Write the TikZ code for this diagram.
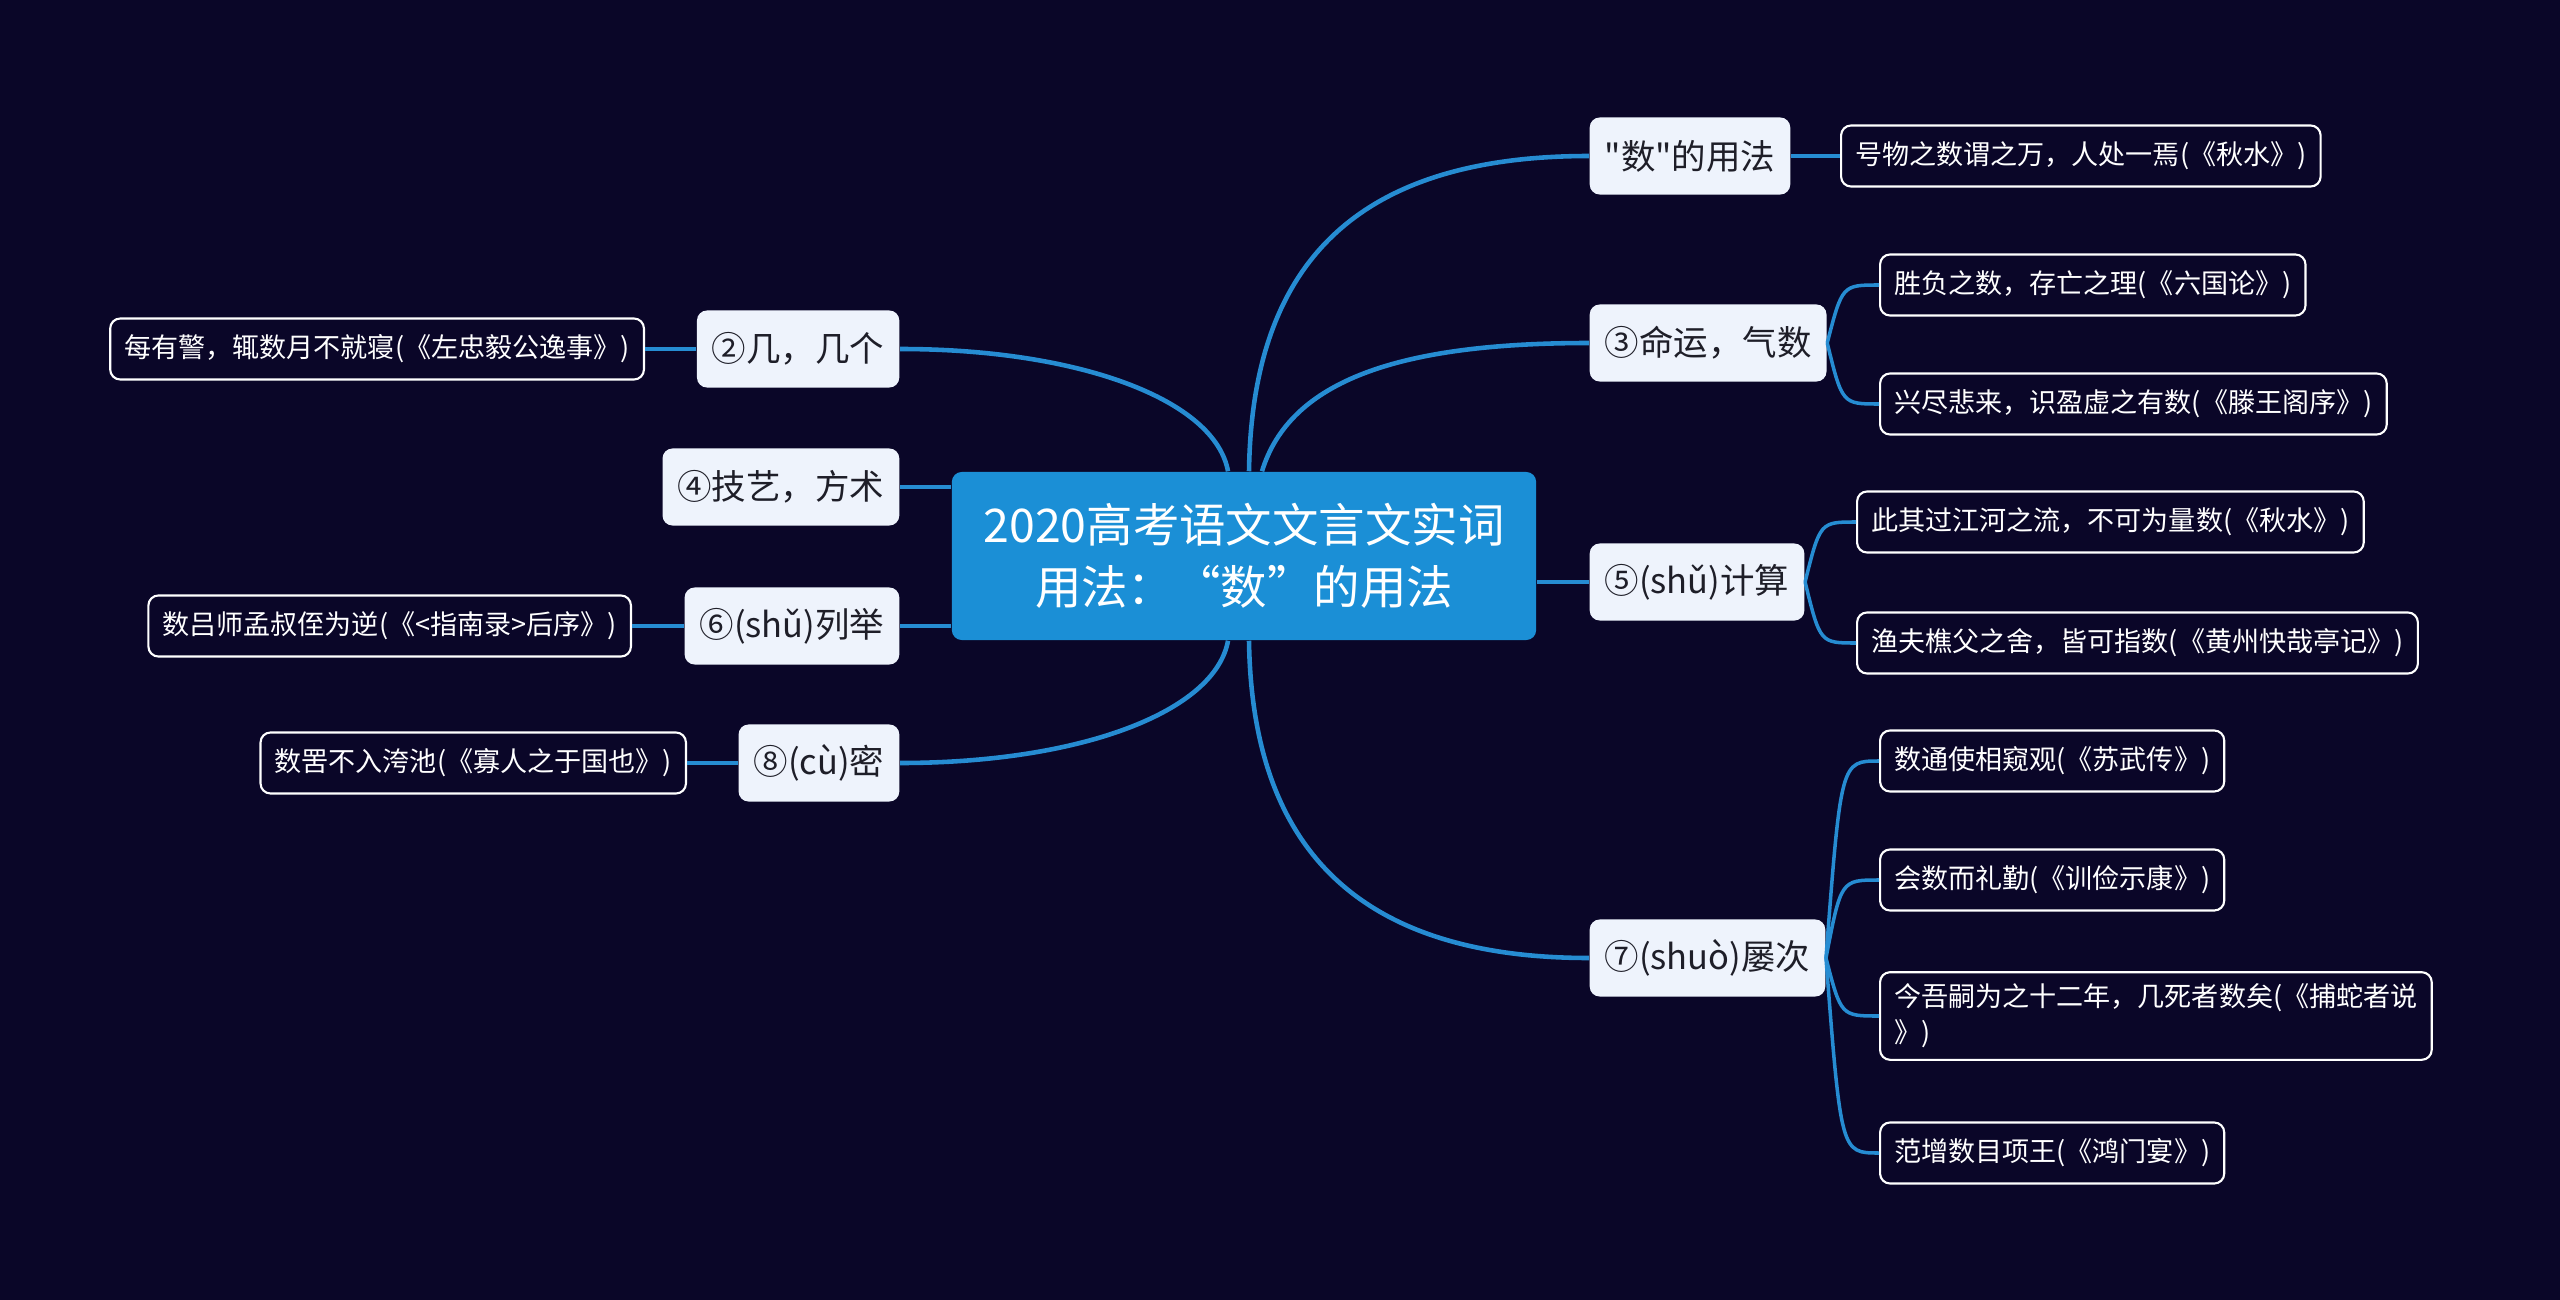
\documentclass[tikz,border=0pt]{standalone}
\usepackage{fontspec}
\setmainfont{Noto Sans CJK SC}[Ligatures=TeXOff]
\usepackage{tikz}
\usetikzlibrary{calc}
\definecolor{bgnavy}{RGB}{10,6,40}
\definecolor{mapblue}{RGB}{27,143,214}
\definecolor{linkblue}{RGB}{38,140,210}
\definecolor{topicfill}{RGB}{238,243,252}
\definecolor{topictext}{RGB}{30,30,40}

\begin{document}
\begin{tikzpicture}[x=0.01cm,y=-0.01cm,
  root/.style={fill=mapblue,rounded corners=0.1cm,text=white,align=center,
    minimum width=5.84cm,minimum height=1.68cm,font=\fontsize{13.2}{17.6}\selectfont},
  topic/.style={fill=topicfill,rounded corners=0.1cm,text=topictext,
    minimum height=0.77cm,inner xsep=0.15cm,font=\fontsize{9.8}{12}\selectfont},
  leaf/.style={fill=bgnavy,draw=white,line width=0.6pt,rounded corners=0.1cm,text=white,
    minimum height=0.61cm,inner xsep=0.14cm,align=left,font=\fontsize{7.7}{10.2}\selectfont},
  branch/.style={draw=linkblue,line width=1.3pt},
  twig/.style={draw=linkblue,line width=1pt}]
  \fill[bgnavy] (0,0) rectangle (2560,1300);
  % centre
  \node[root] (root) at (1244,556) {2020高考语文文言文实词\\用法：“数”的用法};
  % right topics
  \node[topic,anchor=west] (t1) at (1589,156) {"数"的用法};
  \node[topic,anchor=west] (t3) at (1589,343) {③命运，气数};
  \node[topic,anchor=west] (t5) at (1589,582) {⑤(shǔ)计算};
  \node[topic,anchor=west] (t7) at (1589,958) {⑦(shuò)屡次};
  % left topics
  \node[topic,anchor=east] (t2) at (900,349) {②几，几个};
  \node[topic,anchor=east] (t4) at (900,487) {④技艺，方术};
  \node[topic,anchor=east] (t6) at (900,626) {⑥(shǔ)列举};
  \node[topic,anchor=east] (t8) at (900,763) {⑧(cù)密};
  % right leaves
  \node[leaf,anchor=west] (l1) at (1840,156) {号物之数谓之万，人处一焉(《秋水》)};
  \node[leaf,anchor=west] (l3a) at (1879,285) {胜负之数，存亡之理(《六国论》)};
  \node[leaf,anchor=west] (l3b) at (1879,404) {兴尽悲来，识盈虚之有数(《滕王阁序》)};
  \node[leaf,anchor=west] (l5a) at (1856,522) {此其过江河之流，不可为量数(《秋水》)};
  \node[leaf,anchor=west] (l5b) at (1856,643) {渔夫樵父之舍，皆可指数(《黄州快哉亭记》)};
  \node[leaf,anchor=west] (l7a) at (1879,761) {数通使相窥观(《苏武传》)};
  \node[leaf,anchor=west] (l7b) at (1879,880) {会数而礼勤(《训俭示康》)};
  \node[leaf,anchor=west] (l7c) at (1879,1016) {今吾嗣为之十二年，几死者数矣(《捕蛇者说\\》)};
  \node[leaf,anchor=west] (l7d) at (1879,1153) {范增数目项王(《鸿门宴》)};
  % left leaves
  \node[leaf,anchor=east] (l2) at (645,349) {每有警，辄数月不就寝(《左忠毅公逸事》)};
  \node[leaf,anchor=east] (l6) at (632,626) {数吕师孟叔侄为逆(《<指南录>后序》)};
  \node[leaf,anchor=east] (l8) at (687,763) {数罟不入洿池(《寡人之于国也》)};
  % branches from the centre
  \draw[branch] ($(root.north)+(5,0)$) .. controls (1252,260) and (1360,156) .. (t1.west);
  \draw[branch] ($(root.north)+(18,0)$) .. controls (1290,380) and (1400,343) .. (t3.west);
  \draw[branch] (root.east |- t5) -- (t5.west);
  \draw[branch] ($(root.south)+(5,0)$) .. controls (1252,850) and (1360,958) .. (t7.west);
  \draw[branch] ($(root.north)+(-16,0)$) .. controls (1215,400) and (1080,349) .. (t2.east);
  \draw[branch] (root.west |- t4) -- (t4.east);
  \draw[branch] (root.west |- t6) -- (t6.east);
  \draw[branch] ($(root.south)+(-16,0)$) .. controls (1215,712) and (1080,763) .. (t8.east);
  % twigs to the leaves
  \draw[twig] (t1.east) -- (l1.west);
  \foreach \leaf in {l3a,l3b}
    \draw[twig] (t3.east) .. controls ($(t3.east |- \leaf.west)+(15,0)$) .. (\leaf.west);
  \foreach \leaf in {l5a,l5b}
    \draw[twig] (t5.east) .. controls ($(t5.east |- \leaf.west)+(15,0)$) .. (\leaf.west);
  \foreach \leaf in {l7a,l7b,l7c,l7d}
    \draw[twig] (t7.east) .. controls ($(t7.east |- \leaf.west)+(15,0)$) .. (\leaf.west);
  \draw[twig] (t2.west) -- (l2.east);
  \draw[twig] (t6.west) -- (l6.east);
  \draw[twig] (t8.west) -- (l8.east);
\end{tikzpicture}
\end{document}
